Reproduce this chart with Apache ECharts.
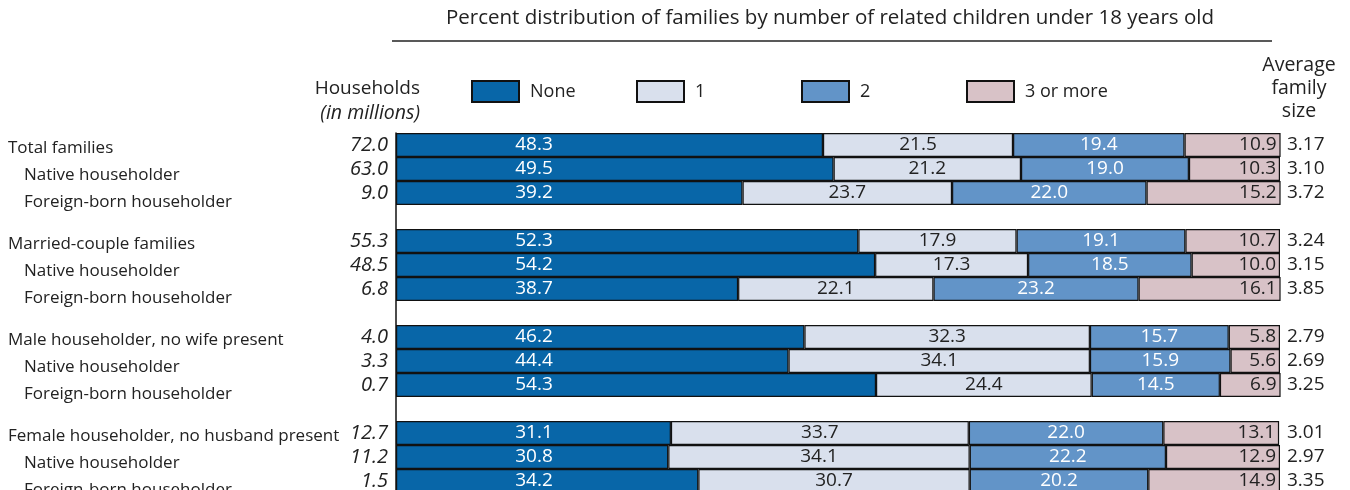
<!DOCTYPE html>
<html>
<head>
<meta charset="utf-8">
<script src="https://cdn.jsdelivr.net/npm/echarts@6/dist/echarts.min.js"></script>
<style>
  html, body { margin: 0; padding: 0; background: #fff; overflow: hidden; }
  #chart { width: 1350px; height: 494px; }
</style>
</head>
<body>
<div id="chart"></div>
<script>
// rows, top to bottom; a group ends after every third row
var rowLabels = ['Total families', 'Native householder', 'Foreign-born householder',
  'Married-couple families', 'Native householder', 'Foreign-born householder',
  'Male householder, no wife present', 'Native householder', 'Foreign-born householder',
  'Female householder, no husband present', 'Native householder', 'Foreign-born householder'];
var households = ['72.0', '63.0', '9.0', '55.3', '48.5', '6.8', '4.0', '3.3', '0.7', '12.7', '11.2', '1.5'];
var noneKids  = [48.3, 49.5, 39.2, 52.3, 54.2, 38.7, 46.2, 44.4, 54.3, 31.1, 30.8, 34.2];
var oneKid    = [21.5, 21.2, 23.7, 17.9, 17.3, 22.1, 32.3, 34.1, 24.4, 33.7, 34.1, 30.7];
var twoKids   = [19.4, 19.0, 22.0, 19.1, 18.5, 23.2, 15.7, 15.9, 14.5, 22.0, 22.2, 20.2];
var threePlus = [10.9, 10.3, 15.2, 10.7, 10.0, 16.1, 5.8, 5.6, 6.9, 13.1, 12.9, 14.9];
var avgSize   = ['3.17', '3.10', '3.72', '3.24', '3.15', '3.85', '2.79', '2.69', '3.25', '3.01', '2.97', '3.35'];
var legendNames = ['None', '1', '2', '3 or more'];

var FONT = '"Open Sans", "DejaVu Sans", sans-serif';
var INK = '#222';

// put an empty slot between the groups
function withGaps(arr, blank) {
  var out = [];
  for (var i = 0; i < arr.length; i++) {
    if (i > 0 && i % 3 === 0) out.push(blank);
    out.push(arr[i]);
  }
  return out;
}

var cats = withGaps(rowLabels.map(function (s, i) { return i + '|' + s; }), 'gap');
var houseCats = withGaps(households, '');
var sizeCats = withGaps(avgSize, '');

function mkSeries(name, data, color, txtColor, label) {
  return {
    name: name,
    type: 'bar',
    stack: 'all',
    barCategoryGap: '0%',
    data: withGaps(data, '-'),
    itemStyle: { color: color, borderColor: '#111', borderWidth: 1.2 },
    label: Object.assign({
      show: true,
      color: txtColor,
      fontFamily: FONT,
      fontSize: 19,
      formatter: function (p) { return p.value.toFixed(1); }
    }, label)
  };
}

// one legend per entry so they sit on an even 165px pitch
var legends = legendNames.map(function (n, i) {
  return {
    left: 471 + i * 165,
    top: 80,
    padding: 0,
    itemWidth: 47,
    itemHeight: 21,
    icon: 'rect',
    formatter: function (name) { return '{w|' + name + '}'; },
    textStyle: {
      fontFamily: FONT, fontSize: 18, color: INK,
      rich: { w: { fontFamily: FONT, fontSize: 18, color: INK, padding: [0, 0, 0, 6] } }
    },
    data: [n]
  };
});

var chart = echarts.init(document.getElementById('chart'));
var option = {
  animation: false,
  grid: { left: 396, right: 70, top: 133, height: 360, outerBoundsMode: 'none' },
  legend: legends,
  xAxis: { type: 'value', min: 0, max: 100, show: false },
  yAxis: [
    {
      type: 'category',
      inverse: true,
      data: cats,
      axisLine: { show: true, lineStyle: { color: '#111', width: 1.5 } },
      axisTick: { show: false },
      axisLabel: {
        interval: 0,
        align: 'left',
        margin: 388,
        fontFamily: FONT,
        fontSize: 17,
        color: INK,
        formatter: function (v) {
          if (v === 'gap') return '';
          var k = +v.split('|')[0], s = v.split('|')[1];
          var r = k % 3;
          if (r === 0) return '{a|' + s + '}';
          return (r === 1 ? '{b|' : '{c|') + s + '}';
        },
        rich: {
          a: { fontFamily: FONT, fontSize: 17, color: INK, padding: [6, 0, 0, 0] },
          b: { fontFamily: FONT, fontSize: 17, color: INK, padding: [12, 0, 0, 16] },
          c: { fontFamily: FONT, fontSize: 17, color: INK, padding: [18, 0, 0, 16] }
        }
      }
    },
    {
      type: 'category',
      inverse: true,
      position: 'left',
      data: houseCats,
      axisLine: { show: false },
      axisTick: { show: false },
      axisLabel: { interval: 0, margin: 8, fontFamily: FONT, fontSize: 20, fontStyle: 'italic', color: INK }
    },
    {
      type: 'category',
      inverse: true,
      position: 'right',
      data: sizeCats,
      axisLine: { show: false },
      axisTick: { show: false },
      axisLabel: { interval: 0, margin: 7, fontFamily: FONT, fontSize: 19, color: INK }
    }
  ],
  series: [
    mkSeries('None', noneKids, '#0866a8', '#fff', { position: [138, '50%'], align: 'center', verticalAlign: 'middle' }),
    mkSeries('1', oneKid, '#d9e0ed', INK, { position: 'inside' }),
    mkSeries('2', twoKids, '#6294c8', '#fff', { position: 'inside' }),
    mkSeries('3 or more', threePlus, '#d8c2c7', INK, { position: 'insideRight', distance: 4 })
  ],
  graphic: [
    { type: 'text', x: 830, y: 18, style: { text: 'Percent distribution of families by number of related children under 18 years old', font: '20.5px ' + FONT, fill: INK, textAlign: 'center', textVerticalAlign: 'middle' } },
    { type: 'line', shape: { x1: 392, y1: 41, x2: 1272, y2: 41 }, style: { stroke: INK, lineWidth: 1.5 } },
    { type: 'text', x: 420, y: 89, style: { text: 'Households', font: '19px ' + FONT, fill: INK, textAlign: 'right', textVerticalAlign: 'middle' } },
    { type: 'text', x: 420, y: 113, style: { text: '(in millions)', font: 'italic 19.5px ' + FONT, fill: INK, textAlign: 'right', textVerticalAlign: 'middle' } },
    { type: 'text', x: 1299, y: 54, style: { text: 'Average\nfamily\nsize', font: '19.5px ' + FONT, lineHeight: 23, fill: INK, textAlign: 'center' } }
  ]
};
chart.setOption(option);
</script>
</body>
</html>
